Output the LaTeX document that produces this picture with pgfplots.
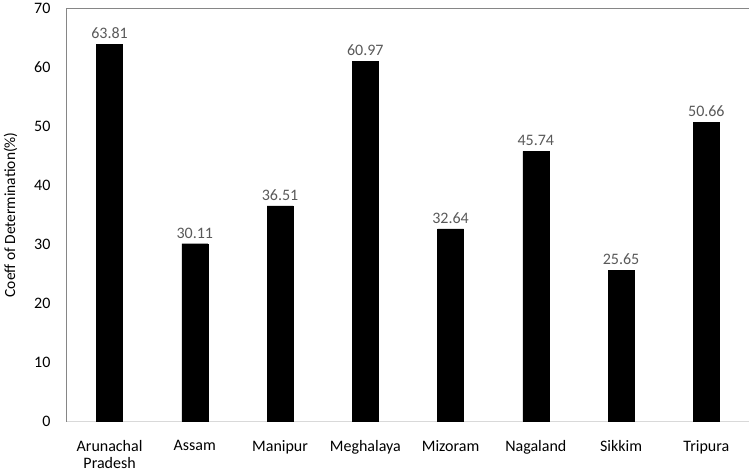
\documentclass[border=0pt]{standalone}
\usepackage{fontspec}
\setmainfont{Carlito}
\usepackage{pgfplots}
\pgfplotsset{compat=1.18}
\definecolor{axgray}{RGB}{134,134,134}
\definecolor{basegray}{RGB}{217,217,217}
\definecolor{lblgray}{RGB}{89,89,89}

\begin{document}
\begin{tikzpicture}
\useasboundingbox (-67pt,-53pt) rectangle (682.6pt,422pt);
\begin{axis}[
  scale only axis,
  width=682.6pt, height=414pt,
  ybar, bar width=26pt,
  xmin=-0.5, xmax=7.5,
  ymin=0, ymax=70,
  ytick={0,10,...,70},
  xtick=data,
  xticklabels={{Arunachal\\Pradesh},Assam,Manipur,Meghalaya,Mizoram,Nagaland,Sikkim,Tripura},
  xticklabel style={align=center, font=\fontsize{16}{17.5}\selectfont, yshift=-15pt},
  yticklabel style={font=\fontsize{16}{18}\selectfont, xshift=-13pt},
  major tick length=0pt,
  axis x line*=bottom, axis y line*=left,
  x axis line style={basegray, line width=1pt, -},
  y axis line style={axgray, line width=1pt, -},
  ylabel={Coeff of Determination(\%)},
  ylabel style={font=\fontsize{15.5}{18}\selectfont, yshift=10pt},
  /pgf/number format/assume math mode=true,
  nodes near coords={\pgfmathprintnumber[fixed,fixed zerofill,precision=2,assume math mode=true]{\pgfplotspointmeta}},
  every node near coord/.append style={font=\fontsize{16}{18}\selectfont, text=lblgray, yshift=2pt},
]
\addplot[fill=black, draw=black] coordinates
  {(0,63.81)(1,30.11)(2,36.51)(3,60.97)(4,32.64)(5,45.74)(6,25.65)(7,50.66)};
\draw[axgray, line width=1pt] (rel axis cs:0,1) -- (rel axis cs:1,1);
\end{axis}
\end{tikzpicture}
\end{document}
